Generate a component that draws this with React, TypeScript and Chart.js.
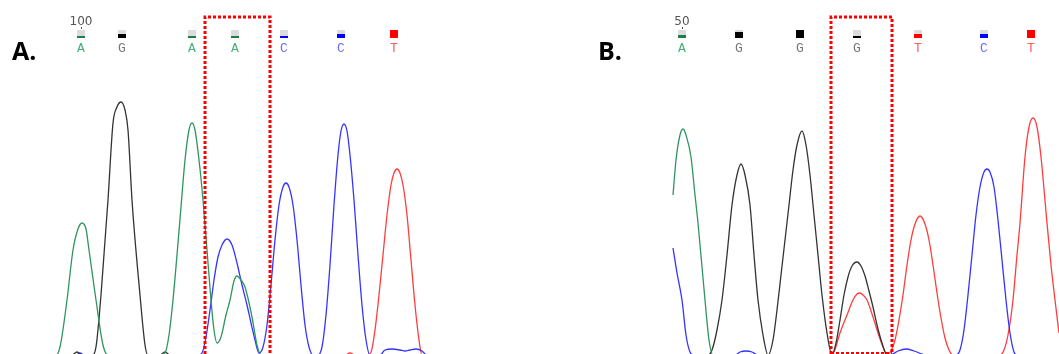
import { useEffect, useRef } from 'react';
import { Chart, registerables } from 'chart.js';

Chart.register(...registerables);

type P = [number, number];

// ---- Panel A traces: [scan position, signal] ----
const A_GREEN: P[] = [[30,0],[56,0],[60,8],[67,55],[73,105],[78,126],[82,132],[86,126],[89,105],[96,55],[103,10],[108,0],[160,0],[165,2],[169,20],[173,55],[177,100],[181,148],[185,195],[189,225],[192,232],[195,225],[199,195],[203,155],[207,105],[211,55],[214,25],[217,12],[221,18],[226,40],[230,55],[234,74],[237,79],[241,75],[245,68],[252,38],[257,10],[261,0],[426,0]];
const A_BLACK: P[] = [[30,0],[72,0],[77,3],[82,0],[92,0],[96,8],[101,60],[108,155],[113,232],[117,248],[121,253],[125,245],[128,225],[132,155],[140,60],[145,10],[148,0],[160,0],[165,3],[170,0],[426,0]];
const A_BLUE: P[] = [[30,0],[76,0],[80,2],[84,0],[198,0],[202,2],[206,18],[210,45],[214,75],[218,98],[222,110],[227,116],[232,110],[237,92],[242,70],[247,50],[251,32],[255,15],[259,2],[263,8],[267,30],[271,70],[275,115],[279,150],[283,168],[286,172],[289,168],[293,150],[297,115],[301,70],[305,30],[309,8],[313,0],[318,0],[322,8],[326,40],[330,90],[334,150],[338,200],[341,224],[344,231],[347,224],[350,200],[354,155],[358,100],[362,50],[366,15],[370,0],[380,0],[385,5],[392,6],[400,5],[405,4],[410,5],[416,6],[422,4],[426,0]];
const A_RED: P[] = [[30,0],[345,0],[350,2],[355,0],[366,0],[371,3],[375,25],[379,60],[383,100],[387,140],[391,170],[394,182],[397,186],[400,182],[403,170],[407,140],[411,95],[415,50],[419,15],[422,0],[426,0]];

// ---- Panel B traces ----
const B_GREEN: P[] = [[673,160],[676,195],[680,220],[683,226],[686,220],[691,198],[695,160],[698,132],[705,55],[709,15],[713,0],[1059,0]];
const B_BLACK: P[] = [[673,0],[708,0],[712,5],[717,25],[722,55],[727,100],[732,150],[737,180],[741,191],[745,180],[750,150],[754,100],[758,55],[763,20],[768,0],[773,15],[777,45],[781,80],[785,115],[789,150],[793,185],[797,210],[802,224],[806,210],[810,180],[814,140],[818,100],[822,60],[827,22],[832,0],[836,12],[840,35],[844,60],[848,78],[852,89],[857,93],[861,89],[865,79],[869,64],[873,48],[877,30],[882,12],[887,0],[1059,0]];
const B_BLUE: P[] = [[673,107],[677,82],[682,55],[686,20],[690,3],[694,0],[735,0],[740,3],[746,4],[752,3],[758,0],[890,0],[898,4],[906,6],[914,4],[922,1],[926,0],[956,0],[960,5],[964,25],[968,60],[972,100],[976,140],[980,168],[984,183],[987,186],[990,183],[994,168],[998,135],[1002,95],[1006,55],[1010,22],[1014,3],[1017,0],[1059,0]];
const B_RED: P[] = [[673,0],[830,0],[834,3],[840,22],[847,40],[853,55],[857,61],[860,62],[863,60],[867,55],[873,38],[878,22],[883,8],[887,0],[891,4],[895,15],[899,35],[903,60],[907,90],[911,115],[915,131],[920,139],[925,131],[929,115],[933,90],[937,62],[941,37],[945,17],[949,5],[953,0],[1000,0],[1004,5],[1008,20],[1013,55],[1017,100],[1020,132],[1025,198],[1029,228],[1033,237],[1037,228],[1041,198],[1047,132],[1051,90],[1055,55],[1059,22]];

// ---- Base calls ----
const A_CALLS = ['A', 'G', 'A', 'A', 'C', 'C', 'T'];
const A_CALL_POS = [81, 122, 192, 235, 284, 341, 394];
const A_CALL_QUALITY = [0.2, 0.45, 0.2, 0.15, 0.15, 0.45, 1];
const B_CALLS = ['A', 'G', 'G', 'G', 'T', 'C', 'T'];
const B_CALL_POS = [682, 739, 800, 857, 918, 984, 1031];
const B_CALL_QUALITY = [0.35, 0.7, 1, 0.2, 0.5, 0.45, 1];

const A_POSITION_LABEL = '100';
const B_POSITION_LABEL = '50';
const A_BOX = [205, 270];
const B_BOX = [831, 892];

const TRACE_COLORS: Record<string, string> = { A: '#2e9560', G: '#333333', C: '#3434ff', T: '#ff3d3d' };
const MARK_COLORS: Record<string, string> = { A: '#1b7f45', G: '#000000', C: '#0000ff', T: '#ff0000' };
const LETTER_COLORS: Record<string, string> = { A: '#45b07a', G: '#777777', C: '#6a6aff', T: '#ff5c5c' };

const overlay = {
  id: 'overlay',
  afterDatasetsDraw(chart: any, _args: any, opts: any) {
    const ctx = chart.ctx as CanvasRenderingContext2D;
    const xs = chart.scales.x;
    const ys = chart.scales.y;
    ctx.save();
    // Panel letter
    ctx.fillStyle = '#000';
    ctx.font = 'bold 25px "Open Sans", "Liberation Sans", sans-serif';
    ctx.textAlign = 'left';
    ctx.textBaseline = 'alphabetic';
    ctx.fillText(opts.panel, xs.getPixelForValue(opts.panelX), 60);

    // Base calls
    const calls: string[] = opts.calls;
    calls.forEach((b, i) => {
      const x = Math.round(xs.getPixelForValue(opts.pos[i]));
      const q = opts.quality[i];
      ctx.fillStyle = '#dcdcdc';
      ctx.fillRect(x - 4, 30, 8, 8);
      const h = Math.max(2, Math.round(8 * q));
      ctx.fillStyle = MARK_COLORS[b];
      ctx.fillRect(x - 4, 38 - h, 8, h);
      ctx.fillStyle = LETTER_COLORS[b];
      ctx.font = '13px "Liberation Mono", "DejaVu Sans Mono", monospace';
      ctx.textAlign = 'center';
      ctx.textBaseline = 'middle';
      ctx.fillText(b, x, 49);
    });

    // Position number
    const x0 = Math.round(xs.getPixelForValue(opts.pos[0]));
    ctx.fillStyle = '#555';
    ctx.font = '12px "DejaVu Sans", sans-serif';
    ctx.textAlign = 'center';
    ctx.textBaseline = 'middle';
    ctx.fillText(opts.number, x0, 22);
    ctx.fillRect(x0, 27, 1, 2);

    // Dotted highlight box
    const l = xs.getPixelForValue(opts.box[0]);
    const r = xs.getPixelForValue(opts.box[1]);
    const top = ys.getPixelForValue(338);
    const bottom = ys.getPixelForValue(1);
    ctx.strokeStyle = '#ff0000';
    ctx.lineWidth = 3;
    ctx.setLineDash([3, 2]);
    ctx.beginPath();
    ctx.moveTo(l, bottom);
    ctx.lineTo(l, top);
    ctx.lineTo(r, top);
    ctx.lineTo(r, bottom);
    ctx.stroke();
    if (opts.closed) {
      ctx.lineWidth = 2;
      ctx.beginPath();
      ctx.moveTo(l, ys.getPixelForValue(2));
      ctx.lineTo(r, ys.getPixelForValue(2));
      ctx.stroke();
    }
    ctx.restore();
  },
};

function ds(points: P[], color: string) {
  return {
    data: points.map(([x, y]) => ({ x, y })),
    borderColor: color,
    borderWidth: 1.3,
    pointRadius: 0,
    fill: false,
    cubicInterpolationMode: 'monotone' as const,
  };
}

function Panel(props: { left: number; width: number; xMin: number; xMax: number; traces: [P[], string][]; overlayOpts: any }) {
  const ref = useRef<HTMLCanvasElement>(null);
  useEffect(() => {
    if (!ref.current) return;
    const chart = new Chart(ref.current, {
      type: 'line',
      data: { datasets: props.traces.map(([p, c]) => ds(p, c)) as any },
      options: {
        animation: false,
        responsive: false,
        devicePixelRatio: 1,
        events: [],
        layout: { padding: 0 },
        plugins: { legend: { display: false }, tooltip: { enabled: false }, overlay: props.overlayOpts } as any,
        scales: {
          x: { type: 'linear', min: props.xMin, max: props.xMax, display: false },
          y: { type: 'linear', min: 1, max: 355, display: false },
        },
      },
      plugins: [overlay as any],
    });
    return () => chart.destroy();
  }, []);
  return (
    <canvas
      ref={ref}
      width={props.width}
      height={354}
      style={{ position: 'absolute', left: props.left, top: 0, width: props.width, height: 354 }}
    />
  );
}

export default function App() {
  return (
    <div style={{ position: 'absolute', left: 0, top: 0, width: 1059, height: 354, background: '#fff', overflow: 'hidden' }}>
      <Panel
        left={0}
        width={540}
        xMin={0}
        xMax={540}
        traces={[[A_GREEN, TRACE_COLORS.A], [A_BLACK, TRACE_COLORS.G], [A_BLUE, TRACE_COLORS.C], [A_RED, TRACE_COLORS.T]]}
        overlayOpts={{ panel: 'A.', panelX: 12, calls: A_CALLS, pos: A_CALL_POS, quality: A_CALL_QUALITY, number: A_POSITION_LABEL, box: A_BOX, closed: false }}
      />
      <Panel
        left={540}
        width={519}
        xMin={540}
        xMax={1059}
        traces={[[B_GREEN, TRACE_COLORS.A], [B_BLACK, TRACE_COLORS.G], [B_BLUE, TRACE_COLORS.C], [B_RED, TRACE_COLORS.T]]}
        overlayOpts={{ panel: 'B.', panelX: 598, calls: B_CALLS, pos: B_CALL_POS, quality: B_CALL_QUALITY, number: B_POSITION_LABEL, box: B_BOX, closed: true }}
      />
    </div>
  );
}
